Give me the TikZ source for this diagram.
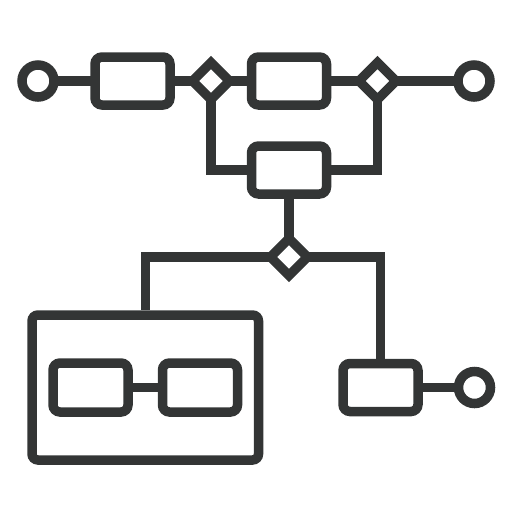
\documentclass[tikz,border=0pt]{standalone}
\usetikzlibrary{shapes.geometric}
\definecolor{ink}{RGB}{51,53,53}
\begin{document}
\begin{tikzpicture}[x=1pt,y=-1pt,
  every node/.style={outer sep=0pt,inner sep=0pt},
  box/.style={draw=ink,line width=9.5pt,rectangle,rounded corners=7pt,minimum width=75pt,minimum height=48pt},
  bigbox/.style={draw=ink,line width=9.5pt,rectangle,rounded corners=6pt,minimum width=226.5pt,minimum height=145pt},
  gate/.style={draw=ink,line width=9.5pt,diamond,line join=miter,minimum width=37pt,minimum height=37pt},
  term/.style={draw=ink,line width=9.5pt,circle,minimum size=32pt},
  wire/.style={draw=ink,line width=9.5pt,line join=miter}]
\useasboundingbox (0,0) rectangle (512,512);
\node[term] (c1) at (38,81) {};
\node[box] (r1) at (132.5,81) {};
\node[gate] (d1) at (211,81) {};
\node[box] (r2) at (289,81) {};
\node[gate] (d2) at (377.5,81) {};
\node[term] (c2) at (474,81) {};
\node[box] (m) at (289,170) {};
\node[gate] (d3) at (289,257) {};
\node[bigbox] (big) at (145.25,387.5) {};
\node[box,minimum height=49pt] (i1) at (90.5,387.5) {};
\node[box,minimum height=49pt] (i2) at (200,387.5) {};
\node[box] (s) at (380.5,387.5) {};
\node[term] (c3) at (474.5,387.5) {};
\draw[wire] (c1) -- (r1);
\draw[wire] (r1) -- (d1);
\draw[wire] (d1) -- (r2);
\draw[wire] (r2) -- (d2);
\draw[wire] (d2) -- (c2);
\draw[wire] (d1.south) |- (m.west);
\draw[wire] (d2.south) |- (m.east);
\draw[wire] (m.south) -- (d3.north);
\draw[wire] (d3.west) -| ([yshift=4.75pt]big.north);
\draw[wire] (d3.east) -| ([yshift=4.75pt]s.north);
\draw[wire] (i1) -- (i2);
\draw[wire] (s) -- (c3);
\end{tikzpicture}
\end{document}
